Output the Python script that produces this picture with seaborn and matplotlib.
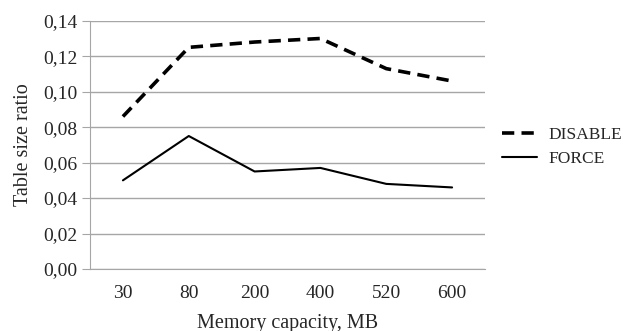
import pandas as pd
import matplotlib.pyplot as plt
import seaborn as sns
from matplotlib.ticker import FuncFormatter, MultipleLocator

# Data
capacity = ["30", "80", "200", "400", "520", "600"]
disable = [0.086, 0.125, 0.128, 0.130, 0.113, 0.106]
force = [0.050, 0.075, 0.055, 0.057, 0.048, 0.046]

sns.set_style("white")
plt.rcParams["font.family"] = ["Liberation Serif", "DejaVu Serif"]

fig = plt.figure(figsize=(6.23, 3.31), dpi=100)
ax = fig.add_axes([0.1445, 0.1873, 0.634, 0.75])

grid_col = "#a6a6a6"
sns.lineplot(x=capacity, y=disable, sort=False, ax=ax, color="black",
             linewidth=2.6, label="DISABLE")
ax.lines[-1].set_dashes((3.4, 2.0))
sns.lineplot(x=capacity, y=force, sort=False, ax=ax, color="black",
             linewidth=1.5, label="FORCE")

ax.set_xlim(-0.5, len(capacity) - 0.5)
ax.set_ylim(0, 0.14)
ax.yaxis.set_major_locator(MultipleLocator(0.02))
ax.yaxis.set_major_formatter(FuncFormatter(lambda v, p: f"{v:.2f}".replace(".", ",")))
ax.grid(axis="y", color=grid_col, linewidth=1)
ax.set_axisbelow(True)

for s in ["top", "right"]:
    ax.spines[s].set_visible(False)
ax.spines["left"].set_color(grid_col)
ax.spines["bottom"].set_color(grid_col)
ax.tick_params(axis="y", which="major", left=True, length=6, color=grid_col,
               labelsize=14, pad=3)
ax.tick_params(axis="x", bottom=False, labelsize=14, pad=8)

ax.set_xlabel("Memory capacity, MB", fontsize=14.5, labelpad=9)
ax.set_ylabel("Table size ratio", fontsize=14.5, labelpad=7)

leg = fig.legend(handles=ax.lines, labels=["DISABLE", "FORCE"],
                 loc="center left", bbox_to_anchor=(502 / 623, 0.555), frameon=False,
                 fontsize=12.5, handlelength=2.0, handletextpad=0.65,
                 labelspacing=0.45, borderpad=0, borderaxespad=0)
ax.get_legend().remove()

fig.savefig("out.png", dpi=100)
